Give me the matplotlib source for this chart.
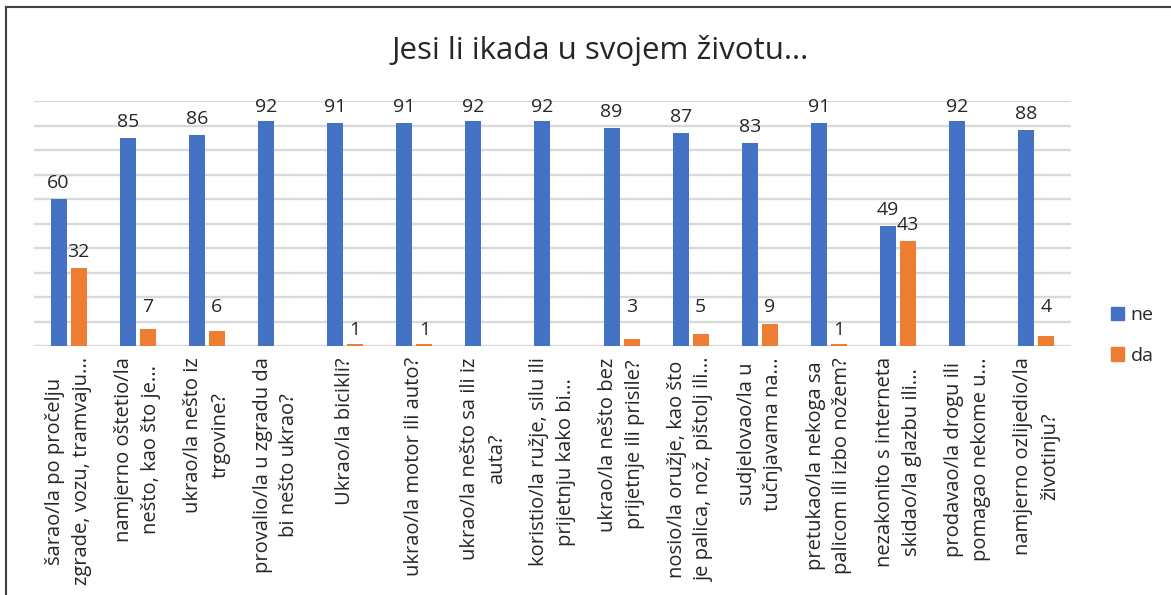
import numpy as np
import matplotlib.pyplot as plt
from matplotlib.lines import Line2D
from matplotlib.patches import Patch

plt.rcParams['font.family'] = ['Open Sans', 'DejaVu Sans']

title = "Jesi li ikada u svojem životu..."
categories = [
    "šarao/la po pročelju\nzgrade, vozu, tramvaju...",
    "namjerno oštetio/la\nnešto, kao što je...",
    "ukrao/la nešto iz\ntrgovine?",
    "provalio/la u zgradu da\nbi nešto ukrao?",
    "Ukrao/la bicikli?",
    "ukrao/la motor ili auto?",
    "ukrao/la nešto sa ili iz\nauta?",
    "koristio/la ružje, silu ili\nprijetnju kako bi...",
    "ukrao/la nešto bez\nprijetnje ili prisile?",
    "nosio/la oružje, kao što\nje palica, nož, pištolj ili...",
    "sudjelovao/la u\ntučnjavama na...",
    "pretukao/la nekoga sa\npalicom ili izbo nožem?",
    "nezakonito s interneta\nskidao/la glazbu ili...",
    "prodavao/la drogu ili\npomagao nekome u...",
    "namjerno ozlijedio/la\nživotinju?",
]
ne = [60, 85, 86, 92, 91, 91, 92, 92, 89, 87, 83, 91, 49, 92, 88]
da = [32, 7, 6, None, 1, 1, None, None, 3, 5, 9, 1, 43, None, 4]

c_ne = '#4472C4'
c_da = '#ED7D31'
c_txt = '#262626'


def label_y(v):
    # baseline of a value label: a bit above the bar, kept inside the plot area
    if v < 2:
        return v + 3.5
    return min(max(v + 4.5, 13.8), 95.4)


fig = plt.figure(figsize=(11.71, 5.95), dpi=100)
ax = fig.add_axes([34 / 1171, 1 - 346 / 595, 1037 / 1171, 245 / 595])

x = np.arange(len(categories))
w = 0.232
off = 0.145

da_vals = np.array([np.nan if v is None else v for v in da], dtype=float)
ax.bar(x - off, ne, w, color=c_ne, zorder=3)
ax.bar(x + off, np.nan_to_num(da_vals), w, color=c_da, zorder=3)

for xi, v in zip(x, ne):
    ax.text(xi - off, label_y(v), str(v), ha='center', va='baseline',
            fontsize=14, color=c_txt)
for xi, v in zip(x, da):
    if v is None:
        continue
    ax.text(xi + off, label_y(v), str(v), ha='center', va='baseline',
            fontsize=14, color=c_txt)

ax.set_xlim(-0.5, len(categories) - 0.5)
ax.set_ylim(0, 100)
ax.set_yticks(np.arange(0, 101, 10))
ax.yaxis.grid(True, color='#D9D9D9', lw=1.7, zorder=0)
ax.tick_params(left=False, labelleft=False, bottom=False, labelbottom=False)
for s in ax.spines.values():
    s.set_visible(False)

# rotated category labels under each pair of bars
for xi, lab in zip(x, categories):
    ax.text(xi, -4.6, lab, rotation=90, ha='center', va='top',
            multialignment='center', fontsize=14.5, color=c_txt,
            linespacing=1.45, clip_on=False)

fig.text(600 / 1171, 1 - 50 / 595, title, ha='center', va='center',
         fontsize=22.5, color=c_txt)

handles = [Patch(color=c_ne), Patch(color=c_da)]
fig.legend(handles, ['ne', 'da'], loc='center left',
           bbox_to_anchor=(1111 / 1171, 1 - 335.5 / 595), frameon=False,
           fontsize=14, handlelength=0.67, handleheight=0.67,
           handletextpad=0.35, labelspacing=1.16, borderpad=0,
           borderaxespad=0, labelcolor=c_txt)

# chart border
fig.add_artist(Line2D([6 / 1171, 6 / 1171], [0, 1 - 7 / 595],
                      transform=fig.transFigure, color='#404040', lw=1.5))
fig.add_artist(Line2D([6 / 1171, 1], [1 - 7 / 595, 1 - 7 / 595],
                      transform=fig.transFigure, color='#404040', lw=1.5))

fig.savefig('out.png', dpi=100)
